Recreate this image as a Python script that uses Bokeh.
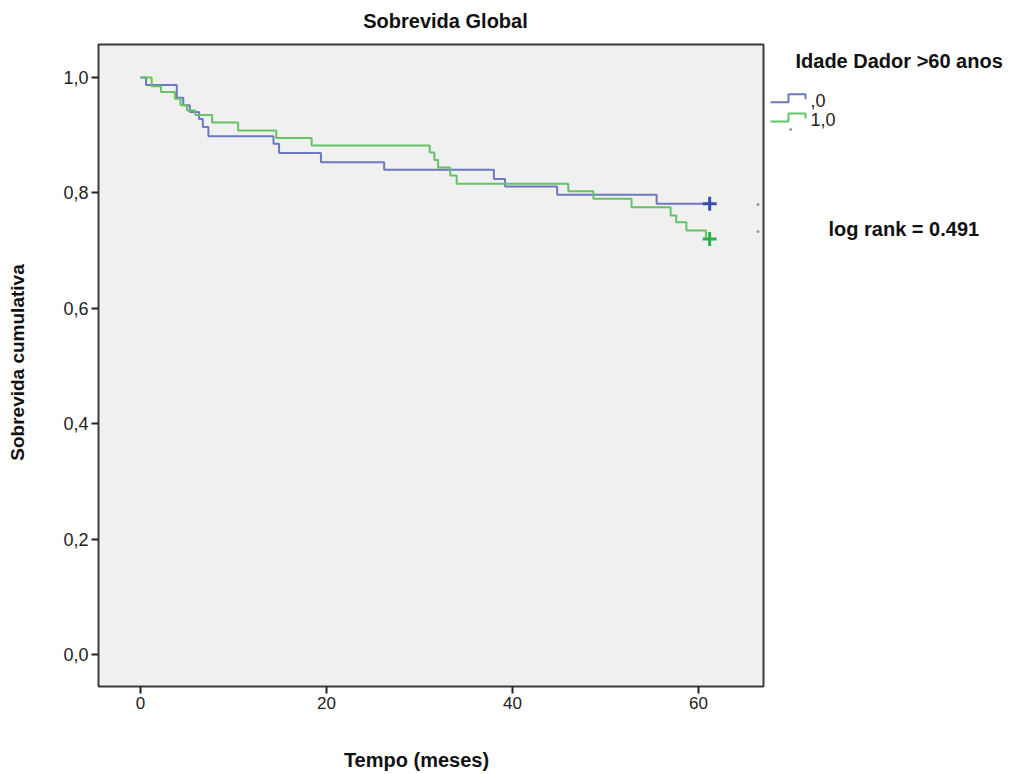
import math
from bokeh.plotting import figure
from bokeh.models import Range1d, FixedTicker, CustomJSTickFormatter
from bokeh.core.properties import value
from bokeh.embed import file_html
from bokeh.resources import INLINE

# ---- data ----
title_text = "Sobrevida Global"
x_label = "Tempo (meses)"
y_label = "Sobrevida cumulativa"
legend_title = "Idade Dador >60 anos"
group_labels = [",0", "1,0"]
stat_text = "log rank = 0.491"

x_ticks = [0, 20, 40, 60]
y_ticks = [0.0, 0.2, 0.4, 0.6, 0.8, 1.0]

# group ,0 (blue)
blue_t = [0, 0.6, 3.9, 4.6, 5.3, 6.3, 6.7, 7.3, 14.3, 14.9, 19.4, 26.2, 38.0, 39.2, 44.8, 55.5, 61.2]
blue_s = [1.0, 0.987, 0.965, 0.952, 0.940, 0.928, 0.914, 0.898, 0.885, 0.869, 0.853, 0.840, 0.824, 0.811,
          0.797, 0.781, 0.781]
blue_cens_t = [61.2]
blue_cens_s = [0.781]

# group 1,0 (green)
green_t = [0, 1.2, 2.2, 3.7, 4.3, 5.0, 5.9, 7.7, 10.5, 14.6, 18.4, 31.1, 31.6, 32.0, 33.3, 34.0, 46.0,
           48.7, 52.8, 57.0, 57.6, 58.7, 60.8, 61.2]
green_s = [1.0, 0.985, 0.975, 0.963, 0.952, 0.943, 0.935, 0.922, 0.908, 0.895, 0.882, 0.870, 0.857, 0.844,
           0.830, 0.816, 0.803, 0.790, 0.775, 0.761, 0.749, 0.735, 0.720, 0.720]
green_cens_t = [61.2]
green_cens_s = [0.720]

# ---- style ----
BLUE_LINE = "#6c78bf"
GREEN_LINE = "#66c266"
BLUE_MARK = "#3a4fa8"
GREEN_MARK = "#2db24a"
FONT = value("Liberation Sans")

# pixel scale of the reference: 9.3 px per month, 577 px per unit of survival
PX_X = 9.3
PX_Y = 577.0
W, H = 1010, 772
X0 = 2  # screen x of the canvas' left edge


def px_to_x(px):
    return (px - 142) / PX_X


def px_to_y(py):
    return 1 - (py - 77) / PX_Y


p = figure(width=W, height=H, output_backend="svg", toolbar_location=None,
           x_range=Range1d(px_to_x(X0), px_to_x(X0 + W)),
           y_range=Range1d(px_to_y(H), px_to_y(0)),
           min_border_left=0, min_border_right=0, min_border_top=0, min_border_bottom=0)
p.outline_line_color = None
p.background_fill_color = "white"
p.border_fill_color = "white"
p.grid.visible = False

# plot box (grey panel with dark frame)
box_left, box_right = -4.516, 66.99
box_bottom, box_top = -0.0555, 1.0572
p.quad(left=[box_left], right=[box_right], bottom=[box_bottom], top=[box_top],
       fill_color="#f0f0f0", line_color="#3a3a3a", line_width=2)

# survival curves
p.step(blue_t, blue_s, mode="after", line_color=BLUE_LINE, line_width=2)
p.step(green_t, green_s, mode="after", line_color=GREEN_LINE, line_width=2)
p.scatter(blue_cens_t, blue_cens_s, marker="cross", size=14, line_width=3, line_color=BLUE_MARK)
p.scatter(green_cens_t, green_cens_s, marker="cross", size=14, line_width=3, line_color=GREEN_MARK)

# small grey specks right of the curves (legend artefacts in the reference)
p.scatter([66.4, 66.4, 69.9], [0.780, 0.733, 0.910], size=3, fill_color="#9a9a9a", line_color=None)

# axes, pinned to the edges of the box
p.xaxis.ticker = FixedTicker(ticks=x_ticks)
p.yaxis.ticker = FixedTicker(ticks=y_ticks)
p.yaxis.formatter = CustomJSTickFormatter(code="return tick.toFixed(1).replace('.', ',');")
p.xaxis.fixed_location = box_bottom
p.yaxis.fixed_location = box_left
for ax in (p.xaxis, p.yaxis):
    ax.axis_line_color = None
    ax.major_tick_line_color = "#222222"
    ax.major_tick_line_width = 2
    ax.major_tick_out = 7
    ax.major_tick_in = 0
    ax.minor_tick_line_color = None
    ax.major_label_text_font = "Liberation Sans"
    ax.major_label_text_font_size = "17px"
    ax.major_label_text_color = "#222222"
    ax.major_label_standoff = 3
p.yaxis.major_label_text_font_size = "18px"

# axis titles, placed as in the reference
p.text(x=[px_to_x(418)], y=[px_to_y(759)], text=[x_label], text_font=FONT,
       text_font_style="bold", text_font_size="20px", text_align="center", text_baseline="middle",
       text_color="#111111")
p.text(x=[px_to_x(19)], y=[px_to_y(362)], text=[y_label], angle=math.pi / 2, text_font=FONT,
       text_font_style="bold", text_font_size="19px", text_align="center", text_baseline="middle",
       text_color="#111111")

# title
p.text(x=[px_to_x(447)], y=[px_to_y(20)], text=[title_text], text_font=FONT,
       text_font_style="bold", text_font_size="20px", text_align="center", text_baseline="middle",
       text_color="#111111")

# legend (custom step icons)
p.text(x=[px_to_x(797)], y=[px_to_y(60)], text=[legend_title], text_font=FONT, text_font_style="bold",
       text_font_size="20px", text_align="left", text_baseline="middle", text_color="#111111")

icon_x = [px_to_x(772), px_to_x(790), px_to_x(790), px_to_x(807), px_to_x(807)]
for row_y, col, lab in ((101.7, BLUE_LINE, group_labels[0]), (121.0, GREEN_LINE, group_labels[1])):
    iy = [px_to_y(row_y), px_to_y(row_y), px_to_y(row_y - 8), px_to_y(row_y - 8), px_to_y(row_y - 3)]
    p.line(icon_x, iy, line_color=col, line_width=2)
    p.text(x=[px_to_x(812)], y=[px_to_y(row_y - 2)], text=[lab], text_font=FONT, text_font_size="18px",
           text_align="left", text_baseline="middle", text_color="#222222")

# statistic
p.text(x=[px_to_x(830)], y=[px_to_y(228)], text=[stat_text], text_font=FONT, text_font_style="bold",
       text_font_size="20px", text_align="left", text_baseline="middle", text_color="#111111")

open("out.html", "w").write(file_html(p, INLINE))
